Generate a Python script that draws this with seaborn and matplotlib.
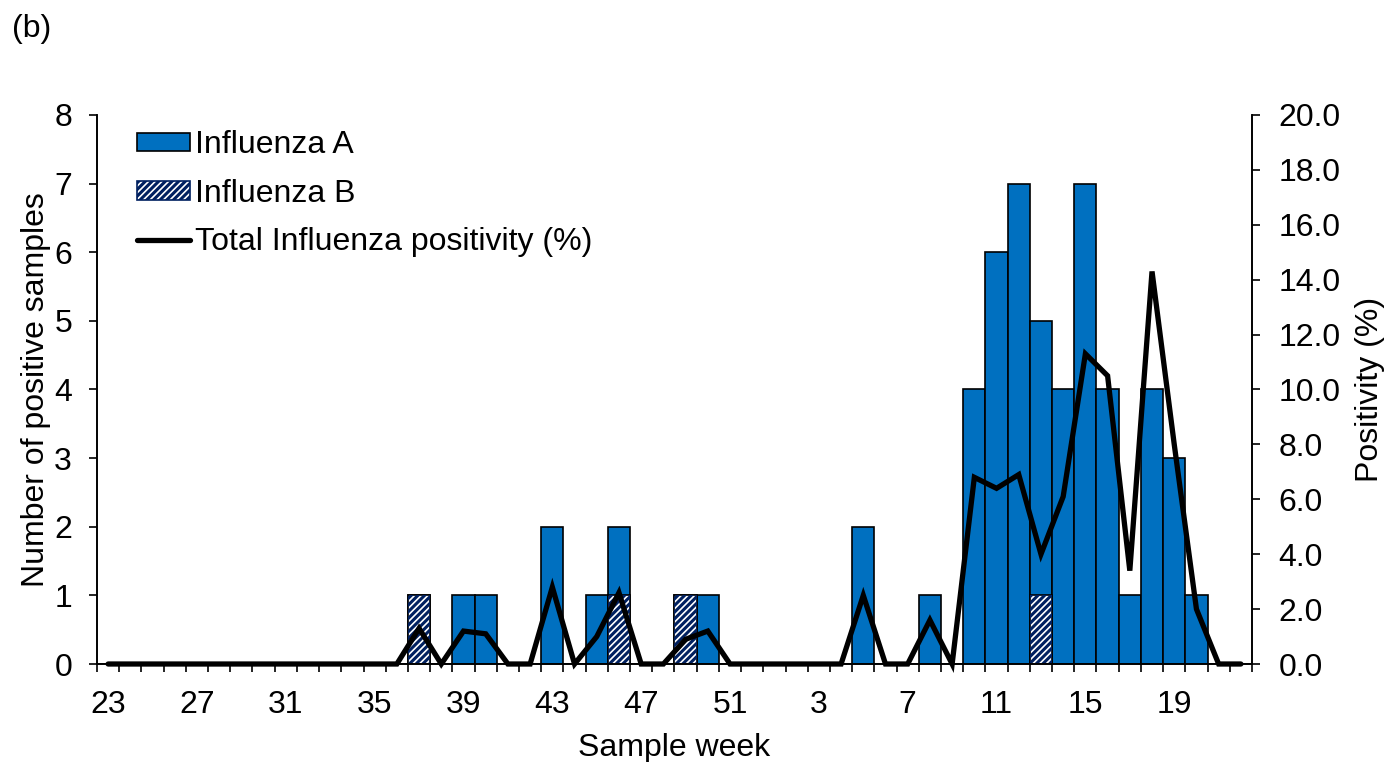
import numpy as np
import pandas as pd
import matplotlib.pyplot as plt
from matplotlib.patches import Patch
from matplotlib.lines import Line2D
import seaborn as sns

sns.set_theme(style="ticks")
plt.rcParams['font.family'] = ['Liberation Sans', 'DejaVu Sans']
plt.rcParams['hatch.linewidth'] = 2.2
for key in ('text.color', 'axes.labelcolor', 'xtick.color', 'ytick.color', 'axes.edgecolor'):
    plt.rcParams[key] = 'black'

# Sample weeks (week 23 of one year to week 22 of the next)
weeks = [23, 24, 25, 26, 27, 28, 29, 30, 31, 32, 33, 34, 35, 36,
         37, 38, 39, 40, 41, 42, 43, 44, 45, 46, 47, 48, 49, 50, 51, 52,
         1, 2, 3, 4, 5, 6, 7, 8, 9, 10, 11, 12, 13, 14, 15, 16, 17, 18, 19, 20, 21, 22]

flu_a = [0, 0, 0, 0, 0, 0, 0, 0, 0, 0, 0, 0, 0, 0,
         0, 0, 1, 1, 0, 0, 2, 0, 1, 1, 0, 0, 0, 1, 0, 0,
         0, 0, 0, 0, 2, 0, 0, 1, 0, 4, 6, 7, 4, 4, 7, 4, 1, 4, 3, 1, 0, 0]

flu_b = [0, 0, 0, 0, 0, 0, 0, 0, 0, 0, 0, 0, 0, 0,
         1, 0, 0, 0, 0, 0, 0, 0, 0, 1, 0, 0, 1, 0, 0, 0,
         0, 0, 0, 0, 0, 0, 0, 0, 0, 0, 0, 0, 1, 0, 0, 0, 0, 0, 0, 0, 0, 0]

positivity = [0, 0, 0, 0, 0, 0, 0, 0, 0, 0, 0, 0, 0, 0,
              1.3, 0, 1.2, 1.1, 0, 0, 2.8, 0, 1.0, 2.6, 0, 0, 0.9, 1.2, 0, 0,
              0, 0, 0, 0, 2.5, 0, 0, 1.6, 0, 6.8, 6.4, 6.9, 4.0, 6.1, 11.3, 10.5, 3.4, 14.3, 8.0, 2.0, 0, 0]

df = pd.DataFrame({
    "week": [str(w) for w in weeks],
    "pos": np.arange(len(weeks)),
    "A": flu_a,
    "B": flu_b,
    "positivity": positivity,
})
df["total"] = df["A"] + df["B"]

blue = "#0070C0"
navy = "#002060"
fs = 23

fig = plt.figure(figsize=(13.9, 7.62), dpi=100)
ax = fig.add_axes([0.0698, 0.1286, 0.8309, 0.7205])

# total bars (A stacked on B), then B drawn over the bottom part
sns.barplot(data=df, x="week", y="total", order=df["week"], color=blue,
            saturation=1, width=1.0, edgecolor="black", linewidth=1.2, ax=ax)
sns.barplot(data=df, x="week", y="B", order=df["week"], color="white",
            saturation=1, width=1.0, edgecolor="black", linewidth=1.2, ax=ax)
n1 = len(ax.patches)
sns.barplot(data=df, x="week", y="B", order=df["week"], color="white",
            saturation=1, width=1.0, edgecolor=navy, linewidth=0,
            hatch="/////", ax=ax)
for p in ax.patches[n1:]:
    p.set_facecolor("none")

ax2 = ax.twinx()
sns.lineplot(data=df, x="pos", y="positivity", color="black", linewidth=3.8, ax=ax2)
for ln in ax2.lines:
    ln.set_clip_on(False)
    ln.set_solid_joinstyle("miter")

ax.set_xlim(-0.5, len(weeks) - 0.5)
ax.set_ylim(0, 8)
ax2.set_ylim(0, 20)

# ticks at category boundaries, labels every 4 weeks at centres
ax.set_xticks(np.arange(len(weeks) + 1) - 0.5)
ax.set_xticklabels([])
ax.set_xticks(df["pos"][::4], labels=df["week"][::4], minor=True)
ax.tick_params(axis="x", which="major", length=6, width=1.2)
ax.tick_params(axis="x", which="minor", length=0, labelsize=fs, pad=19)
ax.set_yticks(range(0, 9))
ax.tick_params(axis="y", length=6, width=1.2, labelsize=fs, pad=12)
ax2.set_yticks(np.arange(0, 21, 2))
ax2.set_yticklabels([f"{v:.1f}" for v in np.arange(0, 21, 2)])
ax2.tick_params(axis="y", length=6, width=1.2, labelsize=fs, pad=13)

ax.set_xlabel("Sample week", fontsize=fs, labelpad=9)
ax.set_ylabel("Number of positive samples", fontsize=fs)
ax2.set_ylabel("Positivity (%)", fontsize=fs)
ax.yaxis.set_label_coords(-0.040, 0.5)
ax2.yaxis.set_label_coords(1.089, 0.5)

for a in (ax, ax2):
    a.spines["top"].set_visible(False)
    for s in ("left", "right", "bottom"):
        a.spines[s].set_linewidth(1.2)

handles = [
    Patch(facecolor=blue, edgecolor="black", linewidth=1.2),
    Patch(facecolor="white", edgecolor=navy, hatch="/////", linewidth=1.2),
    Line2D([0], [0], color="black", linewidth=3.8),
]
labels = ["Influenza A", "Influenza B", "Total Influenza positivity (%)"]
ax2.legend(handles, labels, loc="upper left", bbox_to_anchor=(0.035, 0.972),
           frameon=False, fontsize=fs, borderpad=0, borderaxespad=0,
           handlelength=1.63, handleheight=0.53, handletextpad=0.18,
           labelspacing=0.58)

fig.text(12 / 1390, 1 - 28.5 / 762, "(b)", fontsize=fs, ha="left", va="center")

fig.savefig("out.png", dpi=100)
